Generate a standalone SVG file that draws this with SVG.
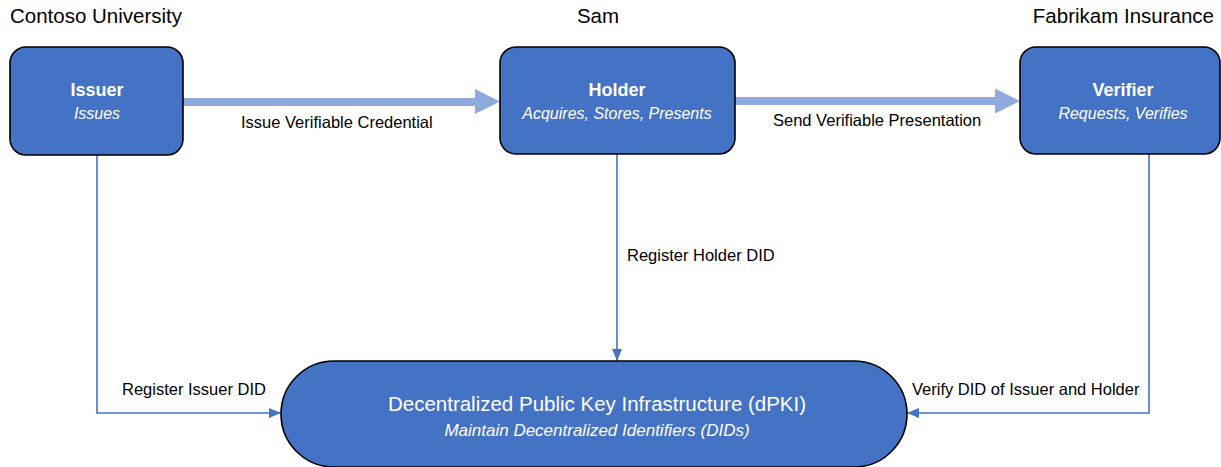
<svg xmlns="http://www.w3.org/2000/svg" width="1221" height="467" viewBox="0 0 1221 467">
<style>
text{font-family:"Liberation Sans",Arial,sans-serif;}
.lbl{font-size:16.5px;fill:#000;}
.top{font-size:20.5px;fill:#000;}
.node{fill:#4472C4;stroke:#000;stroke-width:1.6;}
.t{font-size:18px;font-weight:bold;fill:#fff;text-anchor:middle;}
.s{font-size:16px;font-style:italic;fill:#fff;text-anchor:middle;}
.thick{stroke:#8FAADC;stroke-width:8;fill:none;}
.thin{stroke:#4472C4;stroke-width:1.6;fill:none;}
</style>
<defs>
<marker id="ah" markerWidth="12" markerHeight="10" refX="12" refY="5" orient="auto" markerUnits="userSpaceOnUse">
<path d="M0,0 L12,5 L0,10 Z" fill="#4472C4"/>
</marker>
</defs>
<rect width="1221" height="467" fill="#fff"/>
<g id="labels-top">
<text class="top" x="10" y="23">Contoso University</text>
<text class="top" x="598" y="23" text-anchor="middle">Sam</text>
<text class="top" x="1214" y="23" text-anchor="end">Fabrikam Insurance</text>
</g>
<g id="connectors">
<path class="thick" d="M183,102 H476"/>
<path d="M475,89 L500,101.5 L475,114 Z" fill="#8FAADC"/>
<path class="thick" d="M735,101 H996"/>
<path d="M995,88.5 L1020,101 L995,113.5 Z" fill="#8FAADC"/>
<path class="thin" d="M617,154 V361" marker-end="url(#ah)"/>
<path class="thin" d="M97,155 V413 H281" marker-end="url(#ah)"/>
<path class="thin" d="M1149,154 V413 H907" marker-end="url(#ah)"/>
<text class="lbl" x="241" y="128">Issue Verifiable Credential</text>
<text class="lbl" x="773" y="126">Send Verifiable Presentation</text>
<text class="lbl" x="627" y="261">Register Holder DID</text>
<text class="lbl" x="122" y="395">Register Issuer DID</text>
<text class="lbl" x="912" y="395">Verify DID of Issuer and Holder</text>
</g>
<g id="issuer">
<rect class="node" x="10" y="47" width="173" height="108" rx="16"/>
<text class="t" x="97" y="96">Issuer</text>
<text class="s" x="97" y="119">Issues</text>
</g>
<g id="holder">
<rect class="node" x="500" y="47" width="235" height="107" rx="16"/>
<text class="t" x="617" y="96">Holder</text>
<text class="s" x="617" y="119">Acquires, Stores, Presents</text>
</g>
<g id="verifier">
<rect class="node" x="1020" y="47" width="200" height="107" rx="16"/>
<text class="t" x="1123" y="96">Verifier</text>
<text class="s" x="1123" y="119">Requests, Verifies</text>
</g>
<g id="dpki">
<rect class="node" x="281" y="361" width="626" height="106" rx="53"/>
<text x="597" y="411" text-anchor="middle" font-size="20.5" fill="#fff">Decentralized Public Key Infrastructure (dPKI)</text>
<text x="597" y="436" text-anchor="middle" font-size="17" font-style="italic" fill="#fff">Maintain Decentralized Identifiers (DIDs)</text>
</g>
</svg>
